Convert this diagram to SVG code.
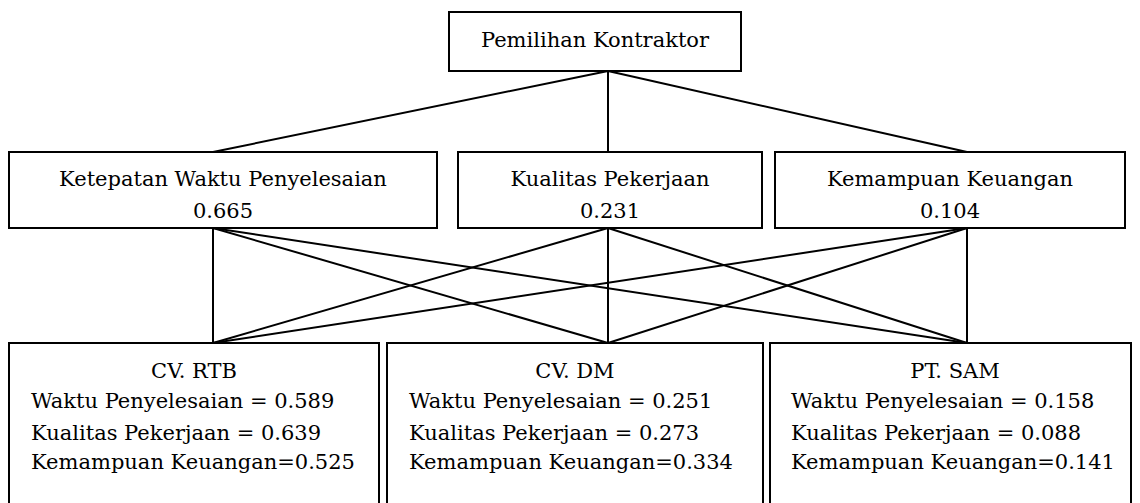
<svg xmlns="http://www.w3.org/2000/svg" width="1140" height="503" viewBox="0 0 1140 503">
<style>
.box{fill:#fff;stroke:#000;stroke-width:2}
.ln{stroke:#000;stroke-width:2;fill:none}
.t{font-family:'DejaVu Serif','Liberation Serif',serif;font-size:21px;fill:#000}
.c{text-anchor:middle}
</style>
<rect width="1140" height="503" fill="#fff"/>
<g id="connectors">
<line class="ln" x1="608" y1="71" x2="213" y2="152"/>
<line class="ln" x1="608" y1="71" x2="608" y2="152"/>
<line class="ln" x1="608" y1="71" x2="967" y2="152"/>
<line class="ln" x1="213" y1="228" x2="213" y2="343"/>
<line class="ln" x1="213" y1="228" x2="608" y2="343"/>
<line class="ln" x1="213" y1="228" x2="967" y2="343"/>
<line class="ln" x1="608" y1="228" x2="213" y2="343"/>
<line class="ln" x1="608" y1="228" x2="608" y2="343"/>
<line class="ln" x1="608" y1="228" x2="967" y2="343"/>
<line class="ln" x1="967" y1="228" x2="213" y2="343"/>
<line class="ln" x1="967" y1="228" x2="608" y2="343"/>
<line class="ln" x1="967" y1="228" x2="967" y2="343"/>
</g>
<g id="goal">
<rect class="box" x="449" y="12" width="292" height="59"/>
<text class="t c" x="595" y="47">Pemilihan Kontraktor</text>
</g>
<g id="k1">
<rect class="box" x="9" y="152" width="428" height="76"/>
<text class="t c" x="223" y="186">Ketepatan Waktu Penyelesaian</text>
<text class="t c" x="223" y="218">0.665</text>
</g>
<g id="k2">
<rect class="box" x="458" y="152" width="304" height="76"/>
<text class="t c" x="610" y="186">Kualitas Pekerjaan</text>
<text class="t c" x="610" y="218">0.231</text>
</g>
<g id="k3">
<rect class="box" x="775" y="152" width="350" height="76"/>
<text class="t c" x="950" y="186">Kemampuan Keuangan</text>
<text class="t c" x="950" y="218">0.104</text>
</g>
<g id="a1">
<rect class="box" x="9" y="343" width="370" height="170"/>
<text class="t c" x="194" y="378">CV. RTB</text>
<text class="t" x="31" y="408">Waktu Penyelesaian = 0.589</text>
<text class="t" x="31" y="440">Kualitas Pekerjaan = 0.639</text>
<text class="t" x="31" y="469">Kemampuan Keuangan=0.525</text>
</g>
<g id="a2">
<rect class="box" x="387" y="343" width="376" height="170"/>
<text class="t c" x="575" y="378">CV. DM</text>
<text class="t" x="409" y="408">Waktu Penyelesaian = 0.251</text>
<text class="t" x="409" y="440">Kualitas Pekerjaan = 0.273</text>
<text class="t" x="409" y="469">Kemampuan Keuangan=0.334</text>
</g>
<g id="a3">
<rect class="box" x="770" y="343" width="361" height="170"/>
<text class="t c" x="955" y="378">PT. SAM</text>
<text class="t" x="791" y="408">Waktu Penyelesaian = 0.158</text>
<text class="t" x="791" y="440">Kualitas Pekerjaan = 0.088</text>
<text class="t" x="791" y="469">Kemampuan Keuangan=0.141</text>
</g>
</svg>
